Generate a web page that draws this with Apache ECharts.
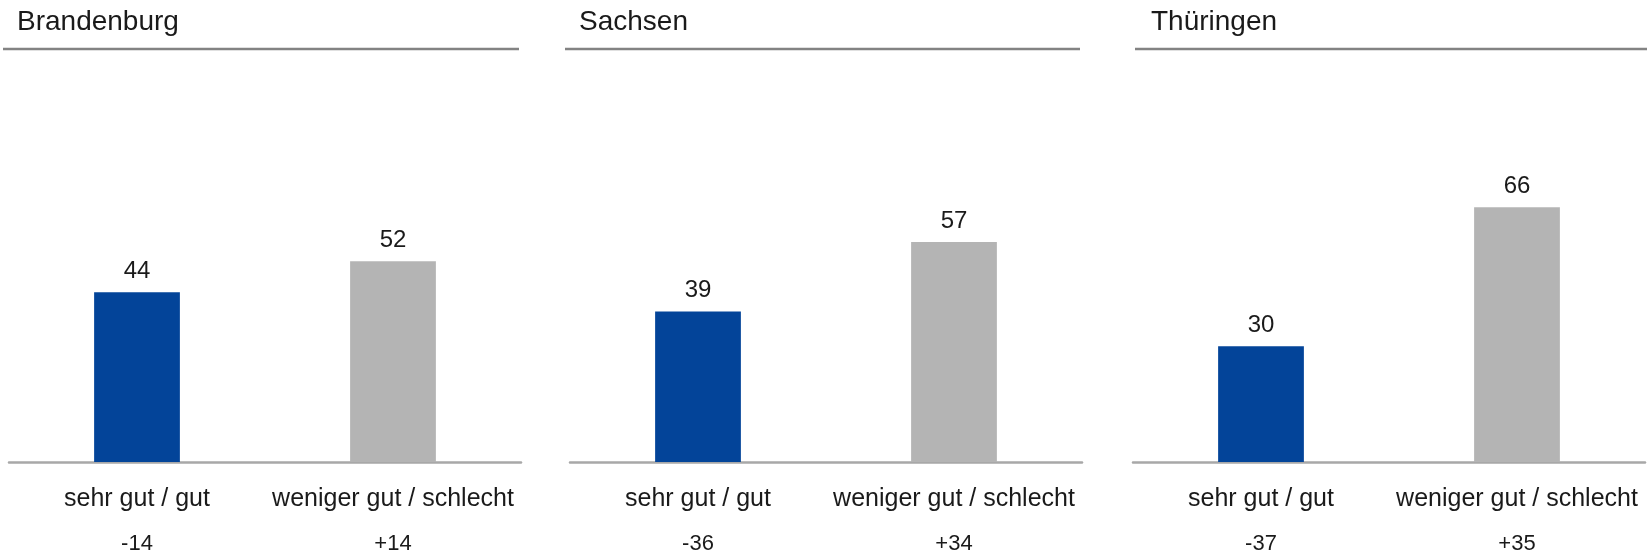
<!DOCTYPE html>
<html>
<head>
<meta charset="utf-8">
<script src="https://cdn.jsdelivr.net/npm/echarts@6/dist/echarts.min.js"></script>
<style>
  html, body { margin: 0; padding: 0; background: #fff; }
  #chart { width: 1647px; height: 553px; }
</style>
</head>
<body>
<div id="chart"></div>
<script>
// data
const states = ['Brandenburg', 'Sachsen', 'Thüringen'];
const categories = ['sehr gut / gut', 'weniger gut / schlecht'];
const brandenburg = [44, 52];
const sachsen = [39, 57];
const thueringen = [30, 66];
const diffBrandenburg = ['-14', '+14'];
const diffSachsen = ['-36', '+34'];
const diffThueringen = ['-37', '+35'];

const values = [brandenburg, sachsen, thueringen];
const diffs = [diffBrandenburg, diffSachsen, diffThueringen];

const barColors = ['#034499', '#b4b4b4'];
const font = '"Liberation Sans", Arial, sans-serif';

// panel layout
const gridLeft = [9, 570, 1133];
const gridWidth = 512;
const titleLeft = [17, 579, 1151];
const headerLines = [[3, 519], [565, 1080], [1135, 1647]];

const chart = echarts.init(document.getElementById('chart'), null, { renderer: 'canvas' });

const option = {
  animation: false,
  backgroundColor: '#fff',
  title: states.map((s, i) => ({
    text: s,
    left: titleLeft[i],
    top: 8,
    padding: 0,
    textStyle: { fontFamily: font, fontSize: 28, fontWeight: 'normal', color: '#1a1a1a' }
  })),
  graphic: headerLines.map(l => ({
    type: 'line',
    shape: { x1: l[0], y1: 49, x2: l[1], y2: 49 },
    style: { stroke: '#838383', lineWidth: 2.5 },
    silent: true
  })),
  // fixed grids, the labels below must not shrink them
  grid: gridLeft.map(left => ({
    left, width: gridWidth, top: 76, height: 386,
    outerBoundsMode: 'none', containLabel: false
  })),
  xAxis: states.map((s, i) => ({
    type: 'category',
    gridIndex: i,
    data: categories,
    axisTick: { show: false },
    axisLine: { lineStyle: { color: '#a8a8a8', width: 2.5 } },
    axisLabel: {
      interval: 0,
      margin: 17,
      formatter: (val, idx) => '{c|' + val + '}\n{d|' + diffs[i][idx] + '}',
      rich: {
        c: { fontFamily: font, fontSize: 25, color: '#1a1a1a', lineHeight: 40 },
        d: { fontFamily: font, fontSize: 22, color: '#1a1a1a', lineHeight: 50 }
      }
    }
  })),
  yAxis: states.map((s, i) => ({
    type: 'value',
    gridIndex: i,
    min: 0,
    max: 100,
    show: false,
    splitLine: { show: false }
  })),
  series: values.map((vals, i) => ({
    type: 'bar',
    xAxisIndex: i,
    yAxisIndex: i,
    barWidth: '33.5%',
    data: vals.map((v, k) => ({ value: v, itemStyle: { color: barColors[k] } })),
    label: {
      show: true,
      position: 'top',
      distance: 9,
      fontFamily: font,
      fontSize: 24,
      color: '#1a1a1a'
    }
  }))
};

chart.setOption(option);
</script>
</body>
</html>
